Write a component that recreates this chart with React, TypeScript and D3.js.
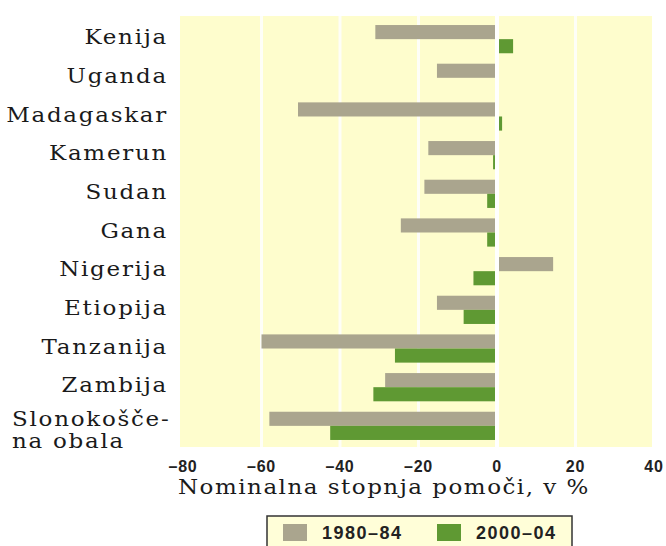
import React from "react";
import * as d3 from "d3";

const categories = [
  "Kenija",
  "Uganda",
  "Madagaskar",
  "Kamerun",
  "Sudan",
  "Gana",
  "Nigerija",
  "Etiopija",
  "Tanzanija",
  "Zambija",
  "Slonokošče-\nna obala",
];
const values1980 = [-31, -15.3, -50.7, -17.5, -18.5, -24.5, 14.3, -15.3, -60, -28.5, -58];
const values2000 = [4.1, 0, 1.3, -1, -2.5, -2.5, -6, -8.5, -26, -31.5, -42.5];
const seriesNames = ["1980–84", "2000–04"];
const xTicks = [-80, -60, -40, -20, 0, 20, 40];
const xTitle = "Nominalna stopnja pomoči, v %";

const W = 666;
const H = 546;
const GREY = "#aaa58e";
const GREEN = "#5f9933";
const BG = "#fefdcd";
const SERIF = "'DejaVu Serif', serif";
const SANS = "'Liberation Sans', Arial, sans-serif";
const SX = 1.15;

function SerifText({ x, y, anchor, children, spacing = 1.5 }: any) {
  return (
    <text
      transform={`translate(${x},${y}) scale(${SX},1)`}
      dy="0.36em"
      textAnchor={anchor || "start"}
      fontFamily={SERIF}
      fontSize={20}
      letterSpacing={spacing}
      fill="#1a1a1a"
    >
      {children}
    </text>
  );
}

export default function App() {
  const x = d3.scaleLinear().domain([-80, 40]).range([183, 654]);
  const y = d3
    .scaleBand<string>()
    .domain(categories)
    .range([20, 445])
    .paddingInner(0.27)
    .paddingOuter(0.13);
  const bw = y.bandwidth();
  const half = bw / 2;
  const x0 = x(0);
  const plotTop = 16;
  const plotBottom = 447;
  const left = x(-80) - 3;
  const right = x(40) - 2;

  const fmt = (v: number) => (v < 0 ? "–" + Math.abs(v) : String(v));

  return (
    <svg
      width={W}
      height={H}
      style={{ position: "absolute", left: 0, top: 0, background: "#fff" }}
    >
      <rect x={left} y={plotTop} width={right - left} height={plotBottom - plotTop} fill={BG} />
      {xTicks.slice(1, -1).map((t) => (
        <line
          key={"g" + t}
          x1={x(t)}
          x2={x(t)}
          y1={plotTop}
          y2={plotBottom}
          stroke="#ffffff"
          strokeWidth={3}
          opacity={0.85}
        />
      ))}
      {categories.map((c, i) => {
        const top = y(c)!;
        const a = values1980[i];
        const b = values2000[i];
        return (
          <g key={c}>
            <rect
              x={Math.min(x(a), x0)}
              y={top}
              width={Math.abs(x(a) - x0)}
              height={half}
              fill={GREY}
            />
            <rect
              x={Math.min(x(b), x0)}
              y={top + half}
              width={Math.abs(x(b) - x0)}
              height={half}
              fill={GREEN}
            />
          </g>
        );
      })}
      <line x1={x0} x2={x0} y1={plotTop} y2={plotBottom} stroke="#fff" strokeWidth={4} />

      {categories.map((c) => {
        const top = y(c)!;
        const lines = c.split("\n");
        if (lines.length === 1) {
          return (
            <SerifText key={"l" + c} x={168} y={top + 12} anchor="end">
              {c}
            </SerifText>
          );
        }
        return (
          <g key={"l" + c}>
            <SerifText x={12} y={top + 7}>
              {lines[0]}
            </SerifText>
            <SerifText x={12} y={top + 29}>
              {lines[1]}
            </SerifText>
          </g>
        );
      })}

      {xTicks.map((t) => (
        <text
          key={"t" + t}
          x={x(t)}
          y={472}
          textAnchor="middle"
          fontFamily={SANS}
          fontSize={16}
          fontWeight="bold"
          letterSpacing={0.8}
          fill="#222"
        >
          {fmt(t)}
        </text>
      ))}
      <SerifText x={178} y={487} spacing={1.3}>
        {xTitle}
      </SerifText>

      <rect x={267} y={516} width={305} height={40} fill="#fffed8" stroke="#333" strokeWidth={1.5} />
      {seriesNames.map((s, i) => {
        const lx = i === 0 ? 283 : 437;
        return (
          <g key={s}>
            <rect x={lx} y={524} width={24} height={17} fill={i === 0 ? GREY : GREEN} />
            <text
              x={lx + 39}
              y={539}
              fontFamily={SANS}
              fontSize={18}
              fontWeight="bold"
              letterSpacing={1.5}
              fill="#222"
            >
              {s}
            </text>
          </g>
        );
      })}
    </svg>
  );
}
